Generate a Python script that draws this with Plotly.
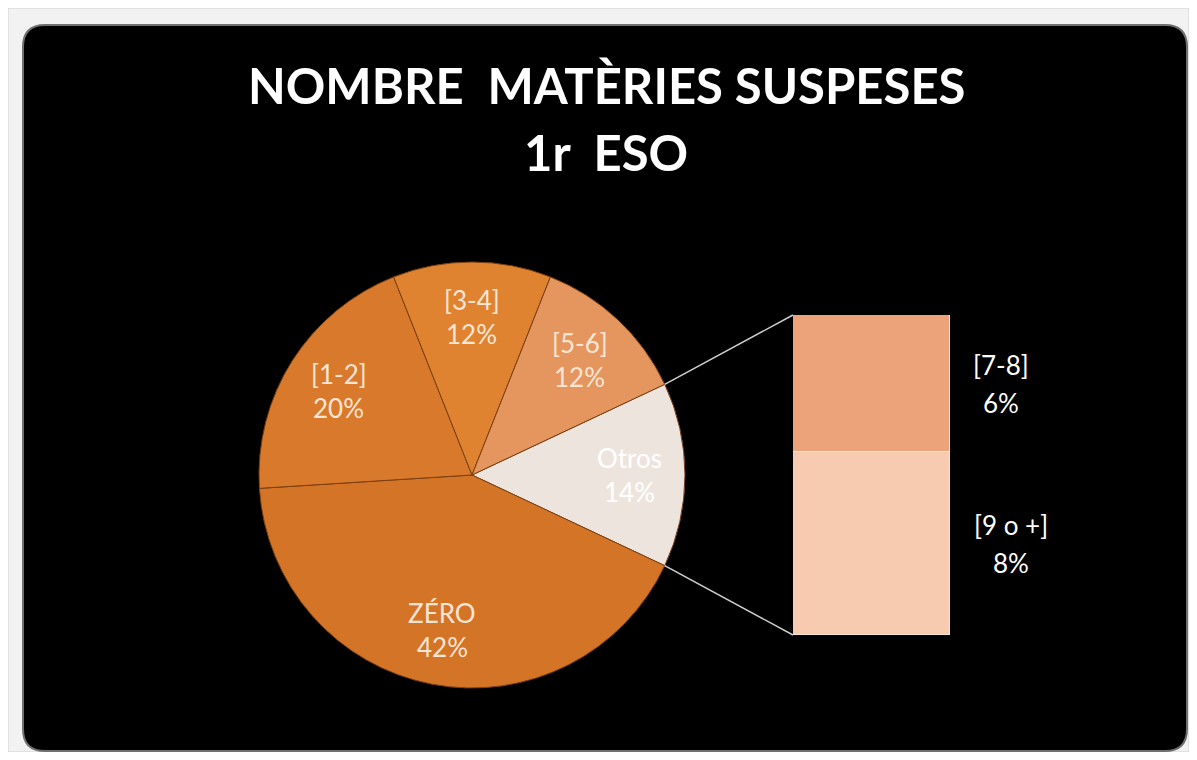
import math
import plotly.graph_objects as go

# ---- data ----
pie_labels = ["Otros", "ZÉRO", "[1-2]", "[3-4]", "[5-6]"]
pie_values = [14, 42, 20, 12, 12]
pie_colors = ["#eee4de", "#d47427", "#d8792b", "#df8331", "#e5955e"]
pie_text_colors = ["#ffffff", "#fbe6d6", "#fbe6d6", "#fbe6d6", "#fbe6d6"]

bar_labels = ["[9 o +]", "[7-8]"]
bar_values = [8, 6]
bar_colors = ["#f7cbaf", "#eca37a"]

title_lines = ["NOMBRE  MATÈRIES SUSPESES", "1r  ESO"]

# ---- layout geometry (page pixels; body has an 8px margin) ----
OFF = 8
W, H = 1197 - 2 * OFF, 760 - 2 * OFF
def px(x):
    return (x - OFF) / W
def py(y):
    return 1 - (y - OFF) / H

FONT = "Lato, Open Sans, sans-serif"
pie_x0, pie_x1, pie_y0, pie_y1 = 259, 685, 262, 688
bar_x0, bar_x1, bar_y0, bar_y1 = 793, 950, 315, 635
bar_label_centers = [1011, 1001]   # x centre of each bar label block (page px)
title_line_y = [85, 152]
title_x = 606
label_radius = 0.74
label_size = 26

fig = go.Figure()

# black rounded panel
r = 22
bx0, bx1, by0, by1 = 23, 1187, 25, 751
panel_path = (
    f"M {px(bx0 + r)} {py(by0)} L {px(bx1 - r)} {py(by0)} "
    f"Q {px(bx1)} {py(by0)} {px(bx1)} {py(by0 + r)} "
    f"L {px(bx1)} {py(by1 - r)} Q {px(bx1)} {py(by1)} {px(bx1 - r)} {py(by1)} "
    f"L {px(bx0 + r)} {py(by1)} Q {px(bx0)} {py(by1)} {px(bx0)} {py(by1 - r)} "
    f"L {px(bx0)} {py(by0 + r)} Q {px(bx0)} {py(by0)} {px(bx0 + r)} {py(by0)} Z"
)
shapes = [
    dict(type="rect", xref="paper", yref="paper", x0=px(8), x1=px(1189), y0=py(752), y1=py(8),
         fillcolor="#f2f2f2", line=dict(color="#d0d0d0", width=1), layer="below"),
    dict(type="path", xref="paper", yref="paper", path=panel_path,
         fillcolor="#000000", line=dict(color="#707070", width=2), layer="below"),
]

total = sum(pie_values)
otros_frac = pie_values[0] / total
rotation = 90 - otros_frac * 360 / 2

fig.add_trace(go.Pie(
    labels=pie_labels, values=pie_values, sort=False,
    direction="clockwise", rotation=rotation,
    marker=dict(colors=pie_colors, line=dict(color="#7a3f12", width=1)),
    textinfo="none",
    domain=dict(x=[px(pie_x0), px(pie_x1)], y=[py(pie_y1), py(pie_y0)]),
    showlegend=False, hoverinfo="label+value",
))

for lab, val, col in zip(bar_labels, bar_values, bar_colors):
    fig.add_trace(go.Bar(
        x=[0], y=[val], name=lab, width=1,
        marker=dict(color=col, line=dict(color="#fbe3d2", width=1)),
        showlegend=False, xaxis="x", yaxis="y",
    ))

annotations = []
for line, yy in zip(title_lines, title_line_y):
    annotations.append(dict(
        x=px(title_x), xref="paper", y=py(yy), yref="paper", text=f"<b>{line}</b>",
        showarrow=False, xanchor="center", yanchor="middle",
        font=dict(family=FONT, size=49, color="#ffffff"),
    ))

# pie labels at mid-angle of each slice
cxp = (pie_x0 + pie_x1) / 2
cyp = (pie_y0 + pie_y1) / 2
rad = min(pie_x1 - pie_x0, pie_y1 - pie_y0) / 2
ang = rotation
for lab, val, tc in zip(pie_labels, pie_values, pie_text_colors):
    span = val / total * 360
    mid = math.radians(ang + span / 2)
    lx = cxp + label_radius * rad * math.sin(mid)
    ly = cyp - label_radius * rad * math.cos(mid)
    for txt, dy in ((lab, -17), (f"{val}%", 17)):
        annotations.append(dict(
            x=px(lx), xref="paper", y=py(ly + dy), yref="paper", text=txt,
            showarrow=False, xanchor="center", yanchor="middle",
            font=dict(family=FONT, size=label_size, color=tc),
        ))
    ang += span

# bar labels (two lines each, centred on each segment)
btotal = sum(bar_values)
cum = 0
for lab, val, xc in zip(bar_labels, bar_values, bar_label_centers):
    yc = bar_y1 - (cum + val / 2) / btotal * (bar_y1 - bar_y0)
    for txt, dy in ((lab, -19), (f"{val}%", 19)):
        annotations.append(dict(
            x=px(xc), xref="paper", y=py(yc + dy), yref="paper", text=txt,
            showarrow=False, xanchor="center", yanchor="middle",
            font=dict(family=FONT, size=label_size, color="#ffffff"),
        ))
    cum += val

# connector lines from pie edge (Otros slice) to bar corners
half = otros_frac * math.pi
ex = cxp + rad * math.cos(half)
for ey, by in ((cyp - rad * math.sin(half), bar_y0), (cyp + rad * math.sin(half), bar_y1)):
    shapes.append(dict(type="line", xref="paper", yref="paper",
                       x0=px(ex), y0=py(ey), x1=px(bar_x0), y1=py(by),
                       line=dict(color="#cfcfcf", width=1.5)))

fig.update_layout(
    width=W, height=H,
    margin=dict(l=0, r=0, t=0, b=0),
    paper_bgcolor="#ffffff", plot_bgcolor="rgba(0,0,0,0)",
    barmode="stack", bargap=0,
    xaxis=dict(domain=[px(bar_x0), px(bar_x1)], range=[-0.5, 0.5], visible=False, fixedrange=True),
    yaxis=dict(domain=[py(bar_y1), py(bar_y0)], range=[0, btotal], visible=False, fixedrange=True),
    shapes=shapes, annotations=annotations,
)

fig.write_html("out.html")
